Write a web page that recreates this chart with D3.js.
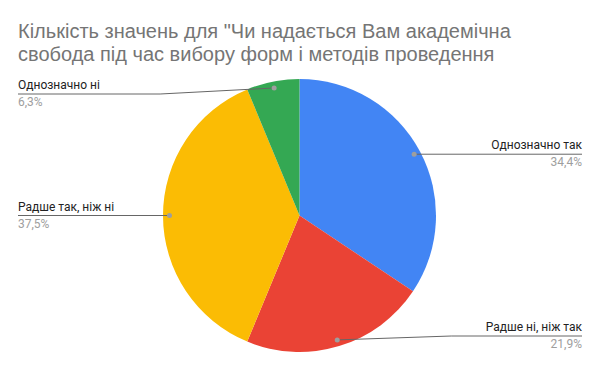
<!DOCTYPE html>
<html>
<head>
<meta charset="utf-8">
<script src="https://cdn.jsdelivr.net/npm/d3@7"></script>
<style>
  body { margin: 0; background: #fff; }
  text { font-family: Roboto, Arial, sans-serif; }
</style>
</head>
<body>
<div id="chart"></div>
<script>
// data (32 answers in total)
const categories = ["Однозначно так", "Радше ні, ніж так", "Радше так, ніж ні", "Однозначно ні"];
const values = [11, 7, 12, 2];
const colors = ["#4285f4", "#ea4335", "#fbbc04", "#34a853"];
const titleLines = [
  "Кількість значень для \"Чи надається Вам академічна",
  "свобода під час вибору форм і методів проведення"
];

const width = 600;
const height = 371;
const cx = 299.5, cy = 215.5;
const radius = 136.5;
const dotRadius = 130;

const svg = d3.select("#chart")
  .append("svg")
  .attr("width", width)
  .attr("height", height);

svg.append("rect").attr("width", width).attr("height", height).attr("fill", "#fff");

// title
svg.selectAll(".title")
  .data(titleLines)
  .enter()
  .append("text")
  .attr("class", "title")
  .attr("x", 18)
  .attr("y", (d, i) => 38 + i * 23)
  .attr("fill", "#757575")
  .style("font-family", "'Liberation Sans', Arial, sans-serif")
  .style("font-size", "20px")
  .text(d => d);

const total = d3.sum(values);
const fmt = v => d3.format(".1f")(v * 100 / total).replace(".", ",") + "%";

const pie = d3.pie().sort(null).value(d => d.value);
const data_ready = pie(categories.map((c, i) => ({ key: c, value: values[i], color: colors[i] })));

const g = svg.append("g").attr("transform", "translate(" + cx + "," + cy + ")");

g.selectAll("path")
  .data(data_ready)
  .enter()
  .append("path")
  .attr("d", d3.arc().innerRadius(0).outerRadius(radius))
  .attr("fill", d => d.data.color);

// labels with leader lines
const labelArc = d3.arc().innerRadius(dotRadius).outerRadius(dotRadius);

data_ready.forEach(d => {
  const c = labelArc.centroid(d);
  const dx = cx + c[0], dy = cy + c[1];
  const right = dx > cx;
  const ly = Math.max(94, Math.min(336, dy));
  const edgeX = right ? 582 : 18;
  const bendX = right ? dx + 114 : dx - 114;

  const pts = ly === dy ? [[edgeX, ly], [dx, dy]] : [[edgeX, ly], [bendX, ly], [dx, dy]];
  svg.append("path")
    .attr("d", d3.line()(pts))
    .attr("fill", "none")
    .attr("stroke", "#666")
    .attr("stroke-width", 1);

  svg.append("circle")
    .attr("cx", dx).attr("cy", dy).attr("r", 2.5)
    .attr("fill", "#9e9e9e");

  svg.append("text")
    .attr("x", edgeX).attr("y", ly - 5)
    .attr("text-anchor", right ? "end" : "start")
    .attr("fill", "#222")
    .style("font-size", "12px")
    .text(d.data.key);

  svg.append("text")
    .attr("x", edgeX).attr("y", ly + 12)
    .attr("text-anchor", right ? "end" : "start")
    .attr("fill", "#9e9e9e")
    .style("font-size", "12px")
    .text(fmt(d.data.value));
});
</script>
</body>
</html>
